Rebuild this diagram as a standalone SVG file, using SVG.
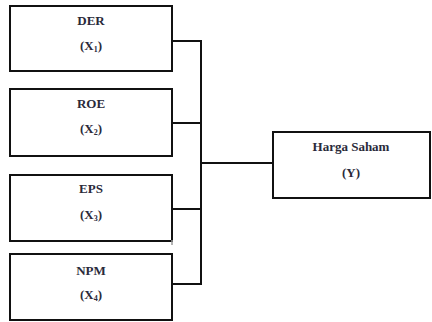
<svg xmlns="http://www.w3.org/2000/svg" width="432" height="322" viewBox="0 0 432 322">
<style>
.box{fill:#fff;stroke:#111;stroke-width:2}
.t{font-family:'Liberation Serif','DejaVu Serif',serif;font-weight:bold;font-size:13px;fill:#2a2a3a;text-anchor:middle}
.s{font-size:8px}
.c{fill:none;stroke:#111;stroke-width:2}
</style>
<rect width="432" height="322" fill="#fff"/>
<g id="connectors">
<path class="c" d="M172 41H201V284H172M172 123H201M172 209H201M201 163H273"/>
</g>
<g id="der">
<rect class="box" x="10" y="6" width="162" height="65"/>
<text class="t" x="91" y="25">DER</text>
<text class="t" x="91" y="50">(X<tspan class="s" dy="2">1</tspan><tspan dy="-2">)</tspan></text>
</g>
<g id="roe">
<rect class="box" x="10" y="89" width="162" height="67"/>
<text class="t" x="91" y="108">ROE</text>
<text class="t" x="91" y="133">(X<tspan class="s" dy="2">2</tspan><tspan dy="-2">)</tspan></text>
</g>
<g id="eps">
<rect class="box" x="10" y="175" width="162" height="66"/>
<line x1="172" y1="240" x2="172" y2="245" stroke="#999" stroke-width="1.5"/>
<text class="t" x="91" y="193">EPS</text>
<text class="t" x="91" y="219">(X<tspan class="s" dy="2">3</tspan><tspan dy="-2">)</tspan></text>
</g>
<g id="npm">
<rect class="box" x="10" y="254" width="162" height="66"/>
<text class="t" x="91" y="275">NPM</text>
<text class="t" x="91" y="299">(X<tspan class="s" dy="2">4</tspan><tspan dy="-2">)</tspan></text>
</g>
<g id="harga">
<rect class="box" x="273" y="132" width="157" height="66"/>
<text class="t" x="351" y="151">Harga Saham</text>
<text class="t" x="351" y="177">(Y)</text>
</g>
</svg>
